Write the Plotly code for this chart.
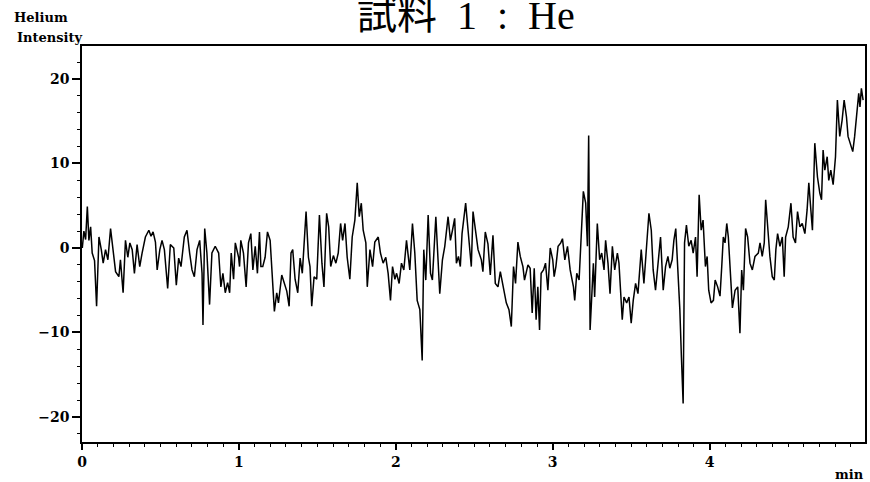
import plotly.graph_objects as go

# Time (min) and Helium intensity
t_min = [
    0.002, 0.012, 0.023, 0.034, 0.044, 0.055, 0.065, 0.080, 0.093, 0.108,
    0.123, 0.135, 0.150, 0.165, 0.182, 0.199, 0.214, 0.235, 0.245, 0.262,
    0.277, 0.292, 0.305, 0.320, 0.334, 0.351, 0.368, 0.383, 0.404, 0.426,
    0.440, 0.453, 0.468, 0.479, 0.496, 0.510, 0.525, 0.546, 0.563, 0.585,
    0.601, 0.616, 0.631, 0.652, 0.669, 0.686, 0.701, 0.716, 0.733, 0.750,
    0.765, 0.771, 0.782, 0.796, 0.813, 0.828, 0.849, 0.871, 0.885, 0.898,
    0.913, 0.928, 0.941, 0.951, 0.966, 0.977, 0.998,
    1.004, 1.012, 1.029, 1.046, 1.061, 1.076, 1.089, 1.104, 1.118, 1.131,
    1.140, 1.152, 1.167, 1.182, 1.199, 1.216, 1.226, 1.241, 1.252, 1.273,
    1.294, 1.305, 1.320, 1.332, 1.343, 1.358, 1.375, 1.390, 1.404, 1.428,
    1.443, 1.453, 1.464, 1.479, 1.496, 1.513, 1.529, 1.542, 1.559, 1.572,
    1.585, 1.602, 1.618, 1.633, 1.648, 1.661, 1.676, 1.690, 1.707, 1.722,
    1.739, 1.754, 1.767, 1.780, 1.792, 1.809, 1.818, 1.835, 1.852, 1.866,
    1.888, 1.902, 1.919, 1.936, 1.951, 1.966, 1.979, 1.994,
    2.005, 2.021, 2.036, 2.051, 2.068, 2.079, 2.089, 2.106, 2.121, 2.136,
    2.153, 2.168, 2.178, 2.191, 2.206, 2.221, 2.233, 2.255, 2.269, 2.280,
    2.297, 2.312, 2.333, 2.348, 2.361, 2.375, 2.386, 2.399, 2.411, 2.422,
    2.445, 2.460, 2.481, 2.492, 2.509, 2.524, 2.545, 2.555, 2.570, 2.587,
    2.602, 2.619, 2.634, 2.651, 2.666, 2.683, 2.704, 2.721, 2.736, 2.750,
    2.763, 2.778, 2.793, 2.810, 2.820, 2.842, 2.856, 2.869, 2.882, 2.894,
    2.905, 2.916, 2.926, 2.941, 2.954, 2.969, 2.984, 3.000,
    3.009, 3.020, 3.034, 3.051, 3.062, 3.077, 3.094, 3.111, 3.132, 3.140,
    3.153, 3.168, 3.183, 3.195, 3.210, 3.221, 3.229, 3.238, 3.259, 3.267,
    3.284, 3.299, 3.312, 3.327, 3.337, 3.352, 3.365, 3.380, 3.395, 3.412,
    3.422, 3.443, 3.454, 3.471, 3.486, 3.500, 3.513, 3.528, 3.543, 3.556,
    3.564, 3.581, 3.596, 3.613, 3.628, 3.640, 3.655, 3.670, 3.687, 3.704,
    3.719, 3.734, 3.746, 3.761, 3.772, 3.784, 3.797, 3.810, 3.820, 3.831,
    3.840, 3.852, 3.867, 3.882, 3.895, 3.910, 3.920, 3.933, 3.946, 3.958,
    3.973, 3.984, 3.994, 4.009,
    4.024, 4.035, 4.051, 4.066, 4.077, 4.087, 4.098, 4.109, 4.119, 4.130,
    4.145, 4.162, 4.179, 4.193, 4.204, 4.215, 4.229, 4.242, 4.257, 4.272,
    4.289, 4.310, 4.321, 4.335, 4.348, 4.357, 4.369, 4.384, 4.399, 4.412,
    4.422, 4.433, 4.448, 4.463, 4.475, 4.484, 4.501, 4.511, 4.518, 4.532,
    4.547, 4.560, 4.575, 4.590, 4.607, 4.621, 4.632, 4.645, 4.655, 4.670,
    4.687, 4.702, 4.713, 4.723, 4.734, 4.749, 4.759, 4.772, 4.787, 4.802,
    4.814, 4.829, 4.844, 4.857, 4.872, 4.882, 4.899, 4.912, 4.924, 4.939,
    4.950, 4.958, 4.967, 4.978,
]

intensity = [
    0.0, 2.0, 1.0, 4.9, 0.9, 2.5, -0.6, -1.5, -6.9, 1.3,
    -0.2, -1.8, -0.2, -1.4, 2.3, -0.2, -2.8, -3.4, -1.4, -5.3,
    0.9, -1.1, 0.6, -0.2, -3.0, 0.4, -2.2, -0.6, 1.3, 2.1,
    1.4, 1.9, 0.7, -2.6, -0.2, 0.9, -0.2, -4.8, 0.4, 0.0,
    -4.4, -1.2, -2.2, 1.3, 2.1, -0.6, -2.6, -3.4, -0.2, 0.9,
    -3.0, -9.1, 2.3, -0.6, -6.7, -0.6, 0.2, -0.6, -4.6, -3.0,
    -5.3, -4.1, -5.3, -0.6, -3.7, 0.6, -1.1,
    -2.2, 0.9, -0.6, -4.6, 0.6, 1.7, -2.6, 0.2, -3.0, 1.9,
    -2.2, -2.2, -1.1, 1.9, 0.9, -3.7, -7.5, -5.3, -6.5, -3.2,
    -4.6, -5.1, -6.9, -0.6, -0.2, -3.7, -5.3, -1.2, -3.0, 4.3,
    -1.1, -2.2, -6.9, -3.4, -3.7, 3.9, -1.8, -4.6, 4.1, 2.5,
    -2.2, -0.9, -1.8, -0.6, 2.9, 0.9, 2.9, -1.1, -3.7, 1.3,
    3.3, 7.7, 3.7, 5.3, 2.1, 0.6, -4.6, -0.2, -2.2, 0.7,
    1.3, -0.6, -1.8, -1.1, -3.0, -6.2, -2.2, -3.7,
    -3.0, -4.2, -1.8, -2.6, 0.9, -0.6, -2.6, 2.9, -0.6, -6.2,
    -7.3, -13.3, -0.2, -3.8, 3.9, -3.0, -3.8, 3.7, -1.4, -5.4,
    -1.4, 0.2, 3.7, 0.9, 2.1, 3.5, -1.8, -1.0, -2.2, 1.7,
    5.3, 2.1, -2.2, 4.3, 1.7, -0.2, -1.4, -2.8, 1.9, 0.5,
    -3.2, 1.5, -4.2, -4.6, -2.8, -4.6, -6.5, -7.3, -9.3, -2.2,
    -4.2, 0.7, -1.0, -2.2, -3.8, -2.0, -2.4, -7.7, -2.4, -8.5,
    -4.6, -9.7, -3.0, -2.6, -1.8, -5.0, 0.0, -1.4,
    -3.4, -2.2, 0.2, 0.6, 1.1, -1.4, 0.2, -2.6, -4.6, -6.2,
    -3.0, -3.8, 3.3, 6.7, 5.3, 0.2, 13.3, -9.7, -1.8, -5.8,
    2.9, -1.4, -0.6, -2.6, 0.9, -1.8, -5.4, 0.2, -2.6, -0.6,
    -1.8, -8.5, -5.8, -6.5, -5.8, -8.9, -6.2, -4.2, -5.4, -1.4,
    -0.2, -4.2, -0.6, 4.1, 2.1, -2.6, -5.0, -1.8, 1.3, -5.0,
    -2.2, -1.0, -2.4, -1.4, 0.9, 2.3, -2.6, -7.3, -12.9, -18.4,
    0.6, 2.7, 0.2, 0.9, -0.6, 1.3, -3.4, 6.3, 2.1, 3.3,
    -2.2, -1.0, -5.0, -6.5,
    -6.2, -3.8, -4.6, -5.7, -2.2, 1.3, 0.6, 2.9, 1.3, -2.6,
    -7.1, -5.0, -4.6, -10.1, -2.6, -5.0, 2.3, 1.3, -1.8, -2.6,
    -1.0, -0.6, 0.6, -1.0, 0.6, 5.7, 2.1, -1.0, -3.4, -3.8,
    -0.2, 1.7, 0.2, 1.3, -3.4, 1.3, 2.5, 4.5, 5.3, 1.3,
    0.6, 4.3, 2.5, 2.9, 1.7, 4.5, 7.7, 4.5, 2.1, 12.4,
    8.4, 6.5, 5.7, 11.6, 9.2, 10.8, 8.0, 9.2, 7.5, 10.8,
    17.5, 13.2, 15.1, 17.5, 15.5, 13.2, 12.0, 11.4, 13.2, 16.3,
    18.3, 16.7, 18.9, 17.5,
]

x_ticks = [0, 1, 2, 3, 4]
y_ticks = [-20, -10, 0, 10, 20]

title_text = "試料\u20021\u2002:\u2002He"
y_label_lines = ["Helium", "Intensity"]
x_unit = "min"

tick_font = dict(family="DejaVu Serif", size=14, color="black", weight="bold")

fig = go.Figure()
fig.add_trace(go.Scatter(
    x=t_min, y=intensity, mode="lines",
    line=dict(color="black", width=1.5),
    hoverinfo="skip", showlegend=False,
))

fig.update_layout(
    width=870, height=482,
    margin=dict(l=82, r=3, t=46, b=40),
    paper_bgcolor="white", plot_bgcolor="white",
    xaxis=dict(
        range=[0, 4.99], tickvals=x_ticks, ticktext=[str(v) for v in x_ticks],
        showgrid=False, zeroline=False, showline=True, linecolor="black",
        linewidth=1.5, mirror=True, ticks="outside", ticklen=6, tickwidth=1.5,
        tickcolor="black", tickfont=tick_font,
        minor=dict(dtick=0.1, tick0=0, ticks="outside", ticklen=3,
                   tickwidth=1, tickcolor="black"),
    ),
    yaxis=dict(
        range=[-22.96, 23.9], tickvals=y_ticks, ticktext=[str(v).replace("-", "−") for v in y_ticks],
        showgrid=False, zeroline=False, showline=True, linecolor="black",
        linewidth=1.5, mirror=True, ticks="outside", ticklen=8, tickwidth=1.5,
        tickcolor="black", tickfont=tick_font,
        minor=dict(dtick=2, tick0=0, ticks="outside", ticklen=3,
                   tickwidth=1, tickcolor="black"),
    ),
)

fig.add_annotation(
    text=title_text, xref="paper", yref="paper", x=0.49, y=1.078,
    xanchor="center", yanchor="middle", showarrow=False,
    font=dict(family="Liberation Serif, Noto Sans CJK JP", size=40, color="black"),
)
fig.add_annotation(
    text=y_label_lines[0], xref="paper", yref="paper", x=-0.089, y=1.073,
    xanchor="left", yanchor="middle", showarrow=False,
    font=dict(family="DejaVu Serif", size=13, color="black", weight="bold"),
)
fig.add_annotation(
    text=y_label_lines[1], xref="paper", yref="paper", x=-0.086, y=1.022,
    xanchor="left", yanchor="middle", showarrow=False,
    font=dict(family="DejaVu Serif", size=13, color="black", weight="bold"),
)
fig.add_annotation(
    text=x_unit, xref="paper", yref="paper", x=1.001, y=-0.081,
    xanchor="right", yanchor="middle", showarrow=False,
    font=dict(family="DejaVu Serif", size=13, color="black", weight="bold"),
)

fig.write_html("out.html")
